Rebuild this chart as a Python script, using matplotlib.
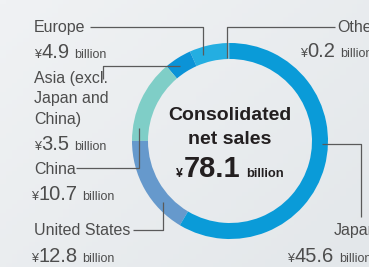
import matplotlib

matplotlib.use("Agg")
import matplotlib.pyplot as plt
import numpy as np
from matplotlib.colors import LinearSegmentedColormap

plt.rcParams["font.family"] = ["Liberation Sans", "DejaVu Sans"]

# data, in drawing order (counter-clockwise from the top of the ring)
regions = ["Others", "Europe", "Asia (excl.\nJapan and\nChina)", "China", "United States", "Japan"]
sales = [0.2, 4.9, 3.5, 10.7, 12.8, 45.6]
colors = ["#72c9ec", "#24aee1", "#0b93d7", "#7fcec7", "#6699cc", "#0a9bd8"]
total_label = "78.1"
center_lines = ["Consolidated", "net sales"]

# layout (pixel space, y grows downwards)
W, H = 369, 267
CENTER = (230, 141)
R_OUT, RING = 98, 16
TEXT = "#4d4d4d"
DARK = "#231f20"
LINE = "#5a5a5a"

label_pos = {
    "Others": (337, 32, 300, 57),
    "Europe": (34, 32, 34, 58),
    "Asia (excl.\nJapan and\nChina)": (34, 83, 34, 150),
    "China": (34, 174, 31, 200),
    "United States": (34, 235, 31, 262),
    "Japan": (334, 235, 287, 262),
}
leaders = {
    "Others": [(227, 58), (227, 27), (335, 27)],
    "Europe": [(90, 27), (203, 27), (203, 55)],
    "Asia (excl.\nJapan and\nChina)": [(103, 79), (103, 66), (180, 66)],
    "China": [(76, 168), (139, 168), (139, 128)],
    "United States": [(133, 230), (163, 230), (163, 202)],
    "Japan": [(322, 144), (361, 144), (361, 217)],
}

fig = plt.figure(figsize=(W / 100, H / 100), dpi=100)
ax = fig.add_axes([0, 0, 1, 1])

# soft background gradient
gx, gy = np.meshgrid(np.linspace(0, 1, 64), np.linspace(0, 1, 64))
bg = LinearSegmentedColormap.from_list("bg", ["#f0f2f4", "#e3e7ea"])
ax.imshow(0.55 * gx + 0.45 * gy, cmap=bg, extent=(0, W, H, 0), aspect="auto", zorder=0)

ax.pie(
    sales,
    colors=colors,
    radius=R_OUT,
    center=CENTER,
    startangle=-90.5,
    counterclock=False,
    frame=True,
    wedgeprops=dict(width=RING, linewidth=0),
)
ax.set_xlim(0, W)
ax.set_ylim(H, 0)
ax.set_aspect("equal")
ax.axis("off")

renderer = fig.canvas.get_renderer()


def width_of(t):
    bb = t.get_window_extent(renderer=renderer)
    return bb.x1 - bb.x0


def value_text(x, y, number, color=TEXT, weight="normal", sizes=(9, 14.5, 9), gap=5):
    yen = ax.text(x, y, "¥", fontsize=sizes[0], color=color, weight=weight, va="baseline")
    x += width_of(yen) + 0.5
    num = ax.text(x, y, number, fontsize=sizes[1], color=color, weight=weight, va="baseline")
    x += width_of(num) + gap
    ax.text(x, y, "billion", fontsize=sizes[2], color=color, weight=weight, va="baseline")


for name, value in zip(regions, sales):
    lx, ly, vx, vy = label_pos[name]
    for i, line in enumerate(name.split("\n")):
        ax.text(lx, ly + i * 20.5, line, fontsize=11.5, color=TEXT, va="baseline")
    value_text(vx, vy, f"{value:.1f}")
    pts = np.array(leaders[name])
    ax.plot(pts[:, 0], pts[:, 1], color=LINE, lw=0.9, solid_capstyle="butt")

# centre caption
for i, line in enumerate(center_lines):
    ax.text(CENTER[0], 120 + i * 24, line, fontsize=14, weight="bold", color=DARK,
            ha="center", va="baseline")

# measure the total line to centre it
parts = [("¥", 9), (total_label, 21), ("billion", 9.3)]
probe = [ax.text(0, 0, s, fontsize=f, weight="bold") for s, f in parts]
widths = [width_of(p) for p in probe]
for p in probe:
    p.remove()
group = sum(widths) + 0.5 + 6
value_text(CENTER[0] - group / 2, 177, total_label, color=DARK, weight="bold",
           sizes=(9, 21, 9.3), gap=6)

fig.savefig("out.png", dpi=100, facecolor="#eef1f3")
